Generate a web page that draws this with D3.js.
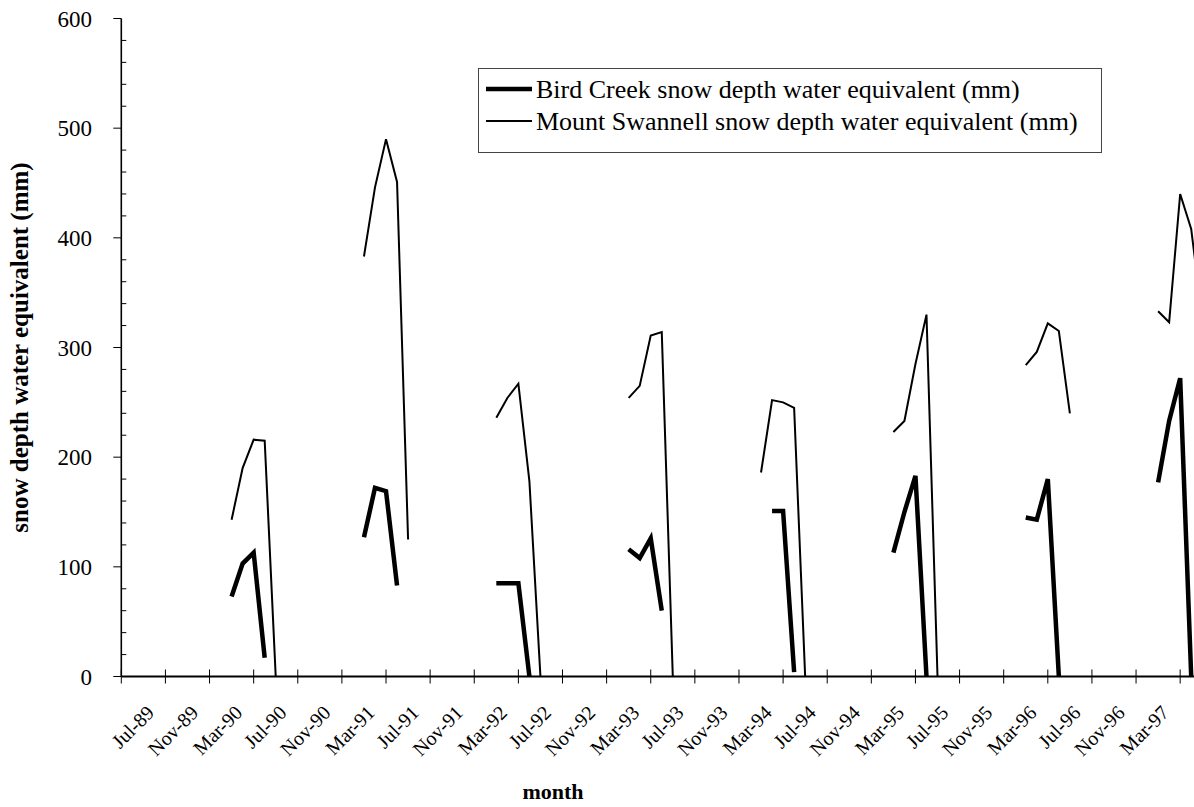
<!DOCTYPE html>
<html>
<head>
<meta charset="utf-8">
<script src="https://cdn.jsdelivr.net/npm/d3@7"></script>
<style>
  html, body { margin: 0; padding: 0; background: #fff; }
  svg { display: block; font-family: "Liberation Serif", "Times New Roman", serif; }
</style>
</head>
<body>
<svg id="chart" width="1194" height="807"></svg>
<script>
// ---- data ----
const xTickLabels = ["Jul-89","Nov-89","Mar-90","Jul-90","Nov-90","Mar-91","Jul-91","Nov-91",
  "Mar-92","Jul-92","Nov-92","Mar-93","Jul-93","Nov-93","Mar-94","Jul-94","Nov-94",
  "Mar-95","Jul-95","Nov-95","Mar-96","Jul-96","Nov-96","Mar-97"];
const yTicks = [0, 100, 200, 300, 400, 500, 600];
const seasonStarts = ["May-90","May-91","May-92","May-93","May-94","May-95","May-96","May-97"];
const birdCreek = [
  [73, 103, 113, 17],
  [127, 172, 169, 83],
  [85, 85, 85, 0],
  [116, 108, 126, 60],
  [null, 151, 151, 4],
  [113, 150, 183, 0],
  [145, 143, 180, 0],
  [177, 233, 272, 0]
];
const mountSwannell = [
  [143, 190, 216, 215, 0],
  [383, 446, 490, 451, 125],
  [236, 254, 267, 178, 0],
  [254, 265, 311, 314, 0],
  [186, 252, 250, 245, 0],
  [223, 233, 285, 330, 0],
  [284, 296, 322, 315, 240],
  [333, 323, 440, 408, 327]
];
const seriesNames = ["Bird Creek snow depth water equivalent (mm)",
                     "Mount Swannell snow depth water equivalent (mm)"];

// ---- helpers ----
const parseMonth = d3.timeParse("%b-%y");
const monthIndex = s => { const d = parseMonth(s); return (d.getFullYear() - 1989) * 12 + d.getMonth() - 6; };

function toSegments(seasons) {
  return seasons.map((vals, i) => {
    const m0 = monthIndex(seasonStarts[i]);
    return vals.map((v, j) => ({ m: m0 + j, v })).filter(p => p.v !== null);
  });
}

// ---- layout ----
const svg = d3.select("#chart");
const x = d3.scaleLinear().domain([0, 97]).range([121.3, 1191.2]);
const y = d3.scaleLinear().domain([0, 600]).range([676.5, 18.5]);

// axes lines
const axisG = svg.append("g");
axisG.append("line").attr("x1", x(0)).attr("x2", x(0)).attr("y1", y(600)).attr("y2", y(0))
  .attr("stroke", "#000").attr("stroke-width", 1.6);
axisG.append("line").attr("x1", x(0)).attr("x2", x(100)).attr("y1", y(0)).attr("y2", y(0))
  .attr("stroke", "#000").attr("stroke-width", 1.8);

// y ticks: major outside, minor inside
d3.range(0, 601, 20).forEach(v => {
  const major = v % 100 === 0;
  axisG.append("line")
    .attr("x1", major ? x(0) - 8 : x(0)).attr("x2", major ? x(0) : x(0) + 5)
    .attr("y1", y(v)).attr("y2", y(v))
    .attr("stroke", "#000").attr("stroke-width", 1);
});
axisG.selectAll(".ylab").data(yTicks).enter().append("text")
  .attr("x", 92).attr("y", d => y(d)).attr("dy", "0.35em")
  .attr("text-anchor", "end").attr("font-size", 23).text(d => d);

// x ticks every 4 months
const tickMonths = d3.range(0, 97, 4);
axisG.selectAll(".xt").data(tickMonths).enter().append("line")
  .attr("x1", d => x(d)).attr("x2", d => x(d))
  .attr("y1", y(0) - 7).attr("y2", y(0) + 7)
  .attr("stroke", "#000").attr("stroke-width", 1);
axisG.selectAll(".xlab").data(xTickLabels).enter().append("text")
  .attr("transform", d => `translate(${x(monthIndex(d)) + 24},704) rotate(-45)`)
  .attr("dy", "0.71em").attr("text-anchor", "end").attr("font-size", 20).text(d => d);

// axis titles
svg.append("text").attr("transform", `translate(28,${y(300)}) rotate(-90)`)
  .attr("text-anchor", "middle").attr("font-size", 25).attr("font-weight", "bold")
  .text("snow depth water equivalent (mm)");
svg.append("text").attr("x", 553).attr("y", 799)
  .attr("text-anchor", "middle").attr("font-size", 22).attr("font-weight", "bold")
  .text("month");

// lines
const line = d3.line().x(d => x(d.m)).y(d => y(d.v));
const plot = svg.append("g");
plot.selectAll(".bc").data(toSegments(birdCreek)).enter().append("path")
  .attr("d", line).attr("fill", "none").attr("stroke", "#000")
  .attr("stroke-width", 4.5).attr("stroke-linejoin", "miter");
plot.selectAll(".ms").data(toSegments(mountSwannell)).enter().append("path")
  .attr("d", line).attr("fill", "none").attr("stroke", "#000")
  .attr("stroke-width", 2).attr("stroke-linejoin", "miter");

// legend
const lg = svg.append("g");
lg.append("rect").attr("x", 478.5).attr("y", 68.5).attr("width", 623).attr("height", 84)
  .attr("fill", "#fff").attr("stroke", "#444").attr("stroke-width", 1);
const widths = [4.5, 2];
seriesNames.forEach((name, i) => {
  const cy = 89 + i * 32;
  lg.append("line").attr("x1", 486).attr("x2", 532).attr("y1", cy).attr("y2", cy)
    .attr("stroke", "#000").attr("stroke-width", widths[i]);
  lg.append("text").attr("x", 536).attr("y", cy).attr("dy", "0.33em")
    .attr("font-size", 26).text(name);
});
</script>
</body>
</html>
